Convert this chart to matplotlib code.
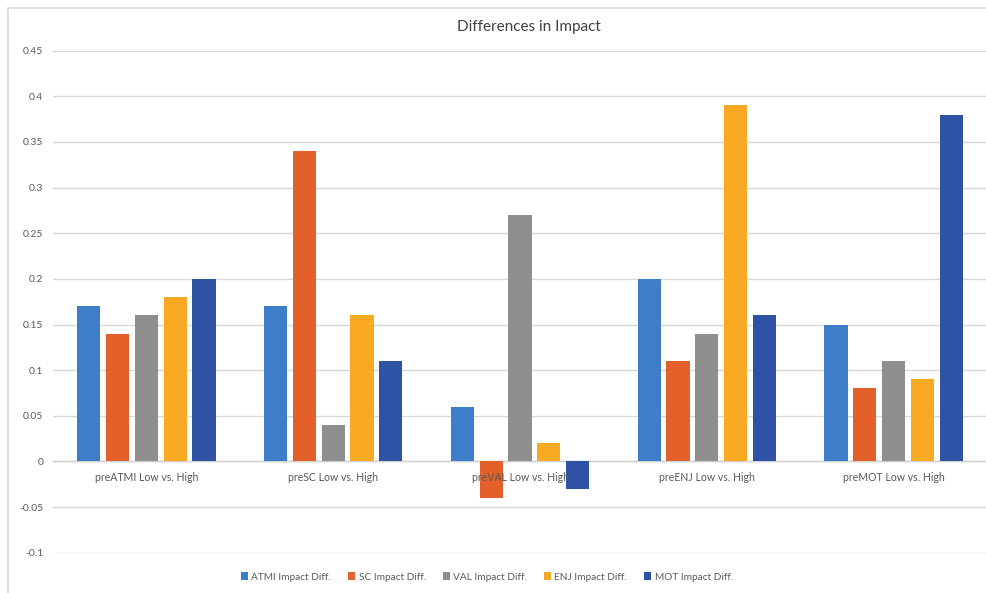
import matplotlib
matplotlib.use("Agg")
import matplotlib.pyplot as plt
import matplotlib.patches as mpatches
import numpy as np

plt.rcParams['font.family'] = ['Lato', 'DejaVu Sans']

categories = ["preATMI Low vs. High", "preSC Low vs. High", "preVAL Low vs. High",
              "preENJ Low vs. High", "preMOT Low vs. High"]
series_names = ["ATMI Impact Diff.", "SC Impact Diff.", "VAL Impact Diff.",
                "ENJ Impact Diff.", "MOT Impact Diff."]
atmi = [0.17, 0.17, 0.06, 0.20, 0.15]
sc = [0.14, 0.34, -0.04, 0.11, 0.08]
val = [0.16, 0.04, 0.27, 0.14, 0.11]
enj = [0.18, 0.16, 0.02, 0.39, 0.09]
mot = [0.20, 0.11, -0.03, 0.16, 0.38]
yticks = [-0.1, -0.05, 0, 0.05, 0.1, 0.15, 0.2, 0.25, 0.3, 0.35, 0.4, 0.45]

colors = ["#3E7DC8", "#E4602A", "#8E8E8E", "#F9A922", "#2E52A4"]
text_gray = "#595959"

W, H = 987, 593
fig = plt.figure(figsize=(W / 100, H / 100), dpi=100)

# light chart-area border
fig.patches.append(mpatches.Rectangle((8 / W, -0.02), 1.05, (H - 8) / H + 0.02,
                                      transform=fig.transFigure, fill=False,
                                      edgecolor="#D9D9D9", linewidth=1.2))

ax = fig.add_axes([53 / W, (H - 552.7) / H, 934 / W, 502 / H])

x = np.arange(len(categories))
pitch = 0.154
width = 0.124
for i, (vals, name) in enumerate(zip([atmi, sc, val, enj, mot], series_names)):
    ax.bar(x + (i - 2) * pitch, vals, width, color=colors[i], label=name, zorder=3)

ax.set_xlim(-0.5, 4.5)
ax.set_ylim(-0.1, 0.45)
ax.set_yticks(yticks)
ax.set_yticklabels([f"{t:g}" for t in yticks], fontsize=7.5, color=text_gray)
ax.tick_params(axis="y", length=0, pad=7)
ax.set_xticks([])
ax.yaxis.grid(True, color="#D9D9D9", linewidth=1, zorder=0)
for s in ax.spines.values():
    s.set_visible(False)
ax.axhline(0, color="#D0D0D0", linewidth=1, zorder=2)

for xi, cat in zip(x, categories):
    ax.annotate(cat, (xi, 0), xytext=(0, -11.5), textcoords="offset points",
                ha="center", va="center", fontsize=7.6, color=text_gray, zorder=4)

fig.text(529 / W, 1 - 27 / H, "Differences in Impact", ha="center", va="center",
         fontsize=11, color="#404040")

handles, labels = ax.get_legend_handles_labels()
fig.legend(handles, labels, loc="center", ncol=5, bbox_to_anchor=(487 / W, 1 - 577 / H),
           frameon=False, fontsize=7.3, labelcolor=text_gray, handlelength=0.7,
           handleheight=0.7, handletextpad=0.3, columnspacing=1.7)

fig.savefig("out.png", dpi=100)
